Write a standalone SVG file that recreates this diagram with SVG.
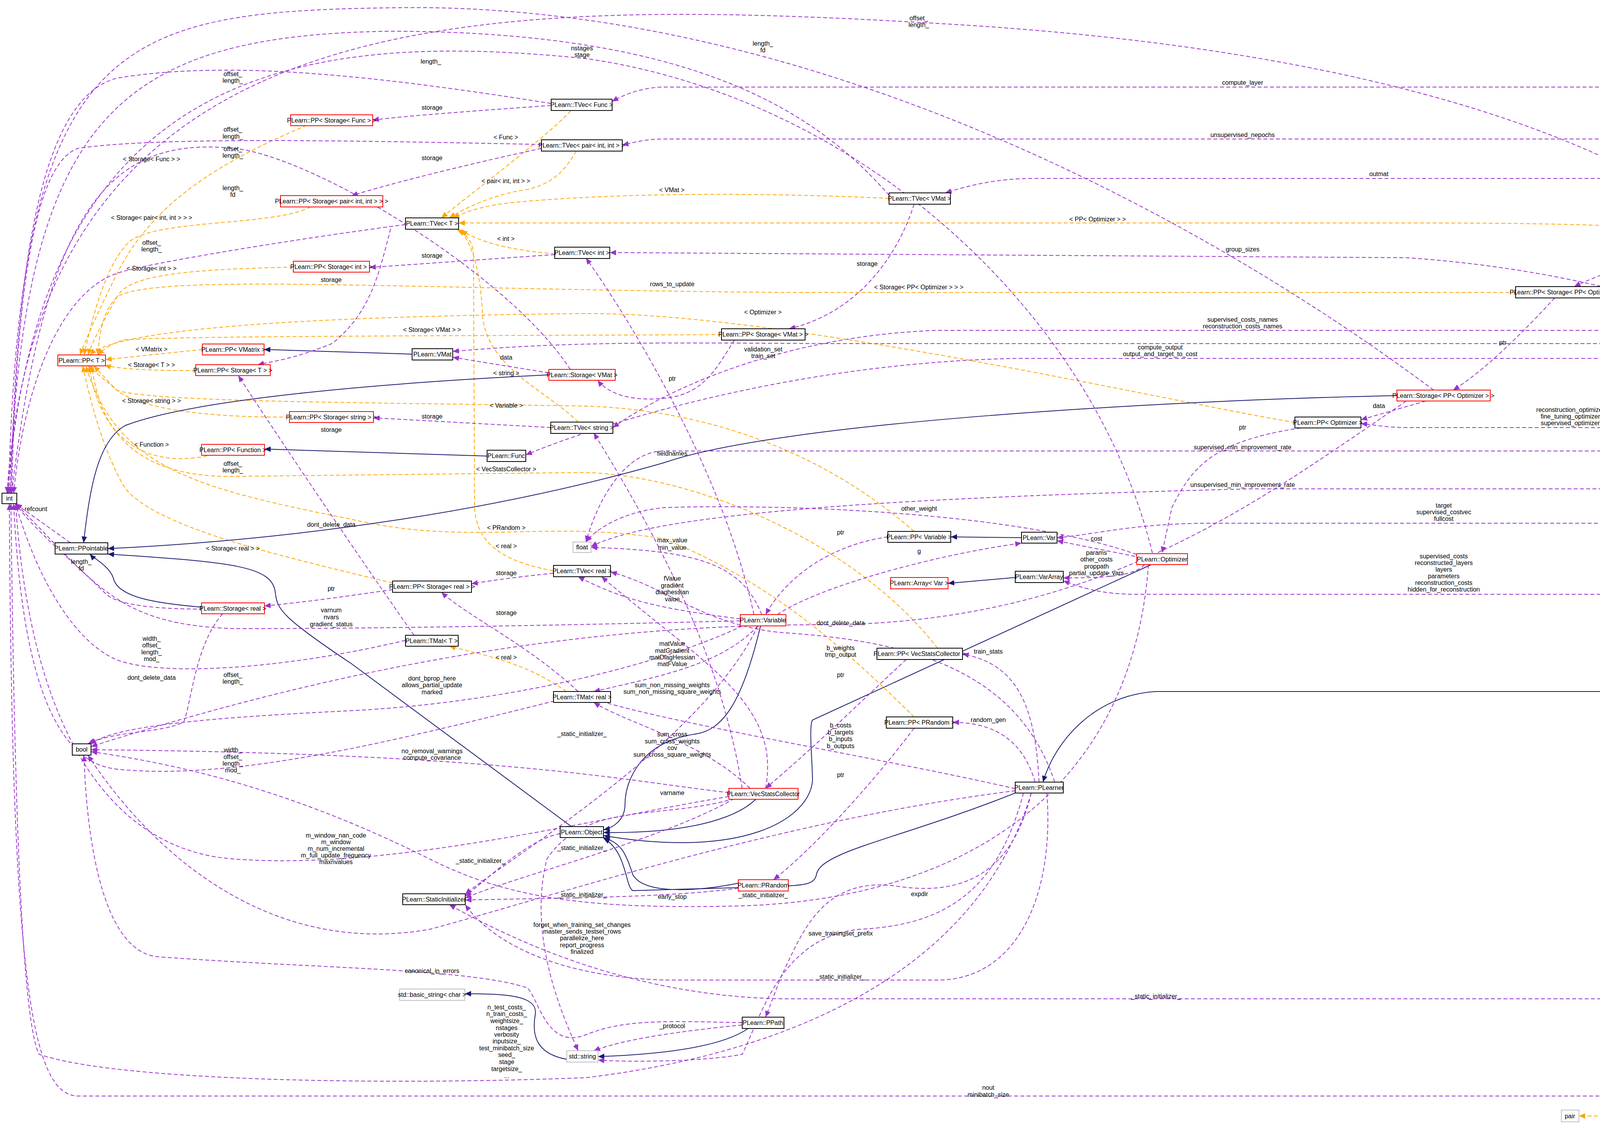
<svg xmlns="http://www.w3.org/2000/svg" width="4901" height="2894" viewBox="0 0 4901 2894">
<style>
text{font-family:"Liberation Sans",Arial,sans-serif;font-size:16px;fill:#000}
.n rect{fill:#fff;stroke:#000;stroke-width:2}
.n.r rect{stroke:#f00}
.n.g rect{stroke:#bfbfbf}
.n.root rect{fill:#bfbfbf}
.n text{text-anchor:middle}
.l text{text-anchor:middle}
.u{fill:none;stroke:#9a32cd;stroke-width:2;stroke-dasharray:10,6;marker-end:url(#mu)}
.o{fill:none;stroke:#ffa500;stroke-width:2;stroke-dasharray:10,6;marker-end:url(#mo)}
.i{fill:none;stroke:#191970;stroke-width:2;marker-end:url(#mi)}
</style>
<defs>
<marker id="mu" markerUnits="userSpaceOnUse" markerWidth="18" markerHeight="14" refX="16" refY="7" orient="auto"><path d="M0,0L16,7L0,14z" fill="#9a32cd"/></marker>
<marker id="mo" markerUnits="userSpaceOnUse" markerWidth="18" markerHeight="14" refX="16" refY="7" orient="auto"><path d="M0,0L16,7L0,14z" fill="#ffa500"/></marker>
<marker id="mi" markerUnits="userSpaceOnUse" markerWidth="18" markerHeight="14" refX="16" refY="7" orient="auto"><path d="M0,0L16,7L0,14z" fill="#191970"/></marker>
</defs>
<rect width="4901" height="2894" fill="#fff"/>
<g id="edges">
<path class="u" d="M4780,1111 C4760,500 4600,223 4300,223 L1700,223 C1650,223 1600,240 1567,260"/>
<path class="u" d="M4790,1111 C4780,600 4640,356 4400,356 L1700,356 C1650,356 1620,366 1593,371"/>
<path class="u" d="M4800,1111 C4790,700 4640,457 4400,457 L2650,457 C2550,457 2480,475 2420,494"/>
<path class="u" d="M4810,1111 C4800,800 4700,580 4494,578"/>
<path class="u" d="M4820,1111 C4700,900 4200,700 3600,660 L1600,647 L1561,647"/>
<path class="u" d="M4830,1111 C4780,950 4600,846 4400,846 L2400,846 C2000,860 1700,1000 1569,1095"/>
<path class="u" d="M4840,1111 C4790,1000 4640,918 4400,918 L2600,918 C2000,930 1500,1100 1346,1165"/>
<path class="u" d="M4800,1111 C4780,980 4650,880 4400,880 L2200,880 C1800,880 1500,870 1159,900"/>
<path class="u" d="M4690,1120 C4500,1095 4200,1095 3900,1095 L3600,1095 C3550,1095 3520,1088 3484,1085"/>
<path class="u" d="M4690,1130 C4500,1155 4300,1155 4000,1155 L1700,1155 C1600,1155 1530,1280 1500,1388"/>
<path class="u" d="M4740,1139 C4600,1200 4500,1252 4300,1252 L3200,1252 C2500,1270 1700,1300 1513,1400"/>
<path class="u" d="M4760,1139 C4700,1300 4550,1340 4400,1340 L3100,1340 C2900,1340 2800,1370 2706,1377"/>
<path class="u" d="M4780,1139 C4700,1400 4550,1522 4400,1522 L2900,1522 C2800,1520 2760,1500 2722,1488"/>
<path class="i" d="M4790,1139 C4770,1500 4650,1771 4400,1771 L2960,1771 C2800,1780 2700,1900 2670,2003"/>
<path class="u" d="M4800,1139 C4780,2000 4600,2558 4400,2558 L2000,2558 C1600,2550 1300,2400 1150,2317"/>
<path class="u" d="M4810,1139 C4790,2300 4600,2807 4400,2807 L200,2807 C80,2807 30,2500 24,1290"/>
<path class="u" d="M4830,1139 C4800,2000 4760,2850 4600,2880 C4500,2890 4450,2880 4420,2874"/>
<path class="u" d="M4760,1111 C4700,600 4000,150 2400,60 C1200,-10 100,0 18,1263"/>
<path class="o" d="M4269,584 C4000,571 3800,571 3500,571 L1174,571"/>
<path class="o" d="M3880,749 L2000,749 C1000,740 400,700 300,760 C260,800 255,860 250,909"/>
<path class="o" d="M3315,1082 C3000,1030 2000,800 1500,803 C800,810 300,840 230,909"/>
<path class="o" d="M2276,508 C2000,495 1600,490 1300,520 C1220,530 1190,545 1160,558"/>
<path class="o" d="M1461,284 C1400,350 1200,500 1130,558"/>
<path class="o" d="M1475,387 C1450,430 1420,470 1350,485 C1250,500 1180,540 1150,558"/>
<path class="o" d="M1420,650 C1300,640 1230,620 1180,590"/>
<path class="o" d="M1480,1081 C1400,1000 1240,940 1235,800 C1230,700 1210,620 1175,588"/>
<path class="o" d="M1417,1462 C1300,1440 1220,1400 1215,1300 L1212,650 C1210,620 1195,600 1170,588"/>
<path class="o" d="M518,895 L270,921"/>
<path class="o" d="M501,949 C400,950 300,945 268,935"/>
<path class="o" d="M741,1068 C500,1070 330,1040 290,990 L240,937"/>
<path class="o" d="M546,1164 C400,1200 260,1150 228,937"/>
<path class="o" d="M785,321 C600,400 400,500 300,700 C250,800 215,880 205,909"/>
<path class="o" d="M795,530 C700,580 400,560 330,620 C260,690 230,850 215,909"/>
<path class="o" d="M751,684 C500,690 330,700 300,760 C260,830 235,880 225,909"/>
<path class="o" d="M1005,1493 C700,1420 400,1350 320,1250 C260,1150 225,1000 212,937"/>
<path class="o" d="M1847,857 C1200,860 500,860 320,870 C280,880 260,900 250,909"/>
<path class="o" d="M2400,1660 C2200,1400 1800,1220 1500,1210 L600,1220 C300,1225 250,1050 235,937"/>
<path class="o" d="M2340,1836 C2200,1700 2000,1500 1700,1380 C1400,1330 1200,1400 900,1330 C500,1250 300,1200 220,937"/>
<path class="o" d="M2340,1361 C2100,1150 1800,1050 1500,1040 C900,1030 400,1030 300,1000 L225,937"/>
<path class="o" d="M1450,1771 C1350,1700 1250,1680 1150,1655"/>
<path class="o" d="M4330,2858 L4042,2858"/>
<path class="i" d="M1055,907 L676,895"/>
<path class="i" d="M1247,1168 L677,1150"/>
<path class="i" d="M1405,960 C1000,980 500,1020 320,1090 C250,1130 230,1250 214,1390"/>
<path class="i" d="M3576,1013 C3000,1025 2000,1080 1700,1185 C1300,1300 800,1380 276,1405"/>
<path class="i" d="M516,1555 C400,1545 300,1530 290,1480 C280,1450 240,1430 230,1419"/>
<path class="i" d="M1463,2117 L900,1700 C720,1580 710,1560 705,1520 C700,1450 600,1440 276,1419"/>
<path class="i" d="M1947,1603 C1900,1800 1850,1870 1780,1880 C1640,1900 1600,2000 1600,2060 C1600,2100 1570,2120 1545,2125"/>
<path class="i" d="M1935,2047 C1880,2100 1750,2135 1545,2132"/>
<path class="i" d="M2947,1446 L2080,1844 C2070,1860 2080,1950 2080,2000 C2070,2100 1900,2200 1545,2140"/>
<path class="i" d="M2599,2031 C2300,2150 2100,2180 2090,2240 C2085,2265 2060,2267 2000,2270 L1620,2281 C1600,2270 1605,2180 1545,2147"/>
<path class="i" d="M1890,2262 C1800,2280 1650,2295 1620,2240 C1600,2180 1590,2160 1545,2145"/>
<path class="i" d="M2599,1479 L2427,1494"/>
<path class="i" d="M2615,1377 L2434,1375"/>
<path class="i" d="M1915,2634 C1850,2680 1700,2700 1531,2706"/>
<path class="i" d="M1451,2713 C1380,2700 1360,2660 1370,2600 C1380,2550 1300,2545 1190,2545"/>
<path class="u" d="M1411,270 C1200,285 1000,300 954,308"/>
<path class="u" d="M1411,265 C1000,200 600,150 300,200 C100,250 40,700 28,1263"/>
<path class="u" d="M1386,380 C1200,420 1000,470 900,501"/>
<path class="u" d="M1386,370 C900,360 400,350 200,380 C80,420 40,800 30,1263"/>
<path class="u" d="M1420,652 L946,685"/>
<path class="u" d="M1038,575 C700,620 350,680 300,700 C150,750 60,1000 35,1263"/>
<path class="u" d="M1410,1095 L956,1070"/>
<path class="u" d="M1417,1468 C1300,1480 1240,1490 1207,1495"/>
<path class="u" d="M1005,1510 C900,1525 800,1540 677,1552"/>
<path class="u" d="M1000,586 C970,700 950,800 850,880 C750,920 700,925 660,934"/>
<path class="u" d="M1060,1627 C900,1400 700,1100 610,962"/>
<path class="u" d="M1405,955 L1159,915"/>
<path class="u" d="M1880,871 C1830,950 1800,1010 1700,1020 C1600,1030 1550,1000 1530,974"/>
<path class="u" d="M2340,523 C2300,650 2200,800 2020,842"/>
<path class="u" d="M520,1560 C400,1560 300,1550 270,1520 C200,1450 80,1350 40,1290"/>
<path class="u" d="M180,1390 L40,1290"/>
<path class="u" d="M570,1572 C500,1650 490,1800 470,1850 C400,1880 300,1870 225,1905"/>
<path class="u" d="M1895,1590 C1500,1600 1000,1610 600,1610 C300,1600 250,1500 40,1290"/>
<path class="u" d="M1900,1603 C1700,1700 1300,1800 900,1820 C500,1840 300,1860 230,1905"/>
<path class="u" d="M1950,1574 C1900,1450 1800,1410 1513,1402"/>
<path class="u" d="M1895,1585 C1700,1560 1600,1540 1480,1477"/>
<path class="u" d="M1940,1603 C1850,1700 1700,1730 1520,1771"/>
<path class="u" d="M2273,1375 C2100,1400 2000,1500 1960,1574"/>
<path class="u" d="M1990,1574 C2100,1500 2400,1420 2615,1391"/>
<path class="u" d="M1038,1640 C700,1720 400,1730 300,1690 C200,1650 100,1500 40,1290"/>
<path class="u" d="M1420,1795 C1000,1900 600,2000 300,1970 C100,1950 50,1600 35,1290"/>
<path class="u" d="M1480,1771 C1350,1650 1200,1580 1130,1517"/>
<path class="u" d="M1866,2030 C1600,2000 1300,1930 233,1920"/>
<path class="u" d="M1920,2019 C1800,1900 1600,1850 1520,1799"/>
<path class="u" d="M1960,2019 C2000,1800 1800,1700 1540,1477"/>
<path class="u" d="M1880,2045 C1700,2100 1500,2050 1400,2200 C1350,2400 1440,2600 1480,2691"/>
<path class="u" d="M2320,1689 C2200,1800 2100,1900 1960,2019"/>
<path class="u" d="M2660,2003 C2650,1800 2600,1700 2464,1675"/>
<path class="u" d="M2650,2003 C2620,1900 2550,1850 2439,1850"/>
<path class="u" d="M2340,1865 C2200,2050 2050,2200 1980,2253"/>
<path class="u" d="M2599,2020 C2300,1950 1700,1850 1520,1790"/>
<path class="u" d="M2640,2031 C2600,2200 2500,2300 2300,2270 C2100,2240 2050,2400 2000,2500 L1960,2605"/>
<path class="u" d="M2620,2031 C2550,2300 2400,2370 2200,2380 C2000,2400 1950,2600 1900,2700 C1800,2720 1600,2720 1531,2715"/>
<path class="u" d="M2600,2025 C2000,2100 1400,2300 1100,2380 C700,2450 400,2200 225,1934"/>
<path class="u" d="M2640,2031 C2500,2500 2000,2700 1500,2760 C1000,2780 300,2770 100,2700 C50,2600 35,1900 28,1290"/>
<path class="u" d="M2680,2031 C2700,2300 2600,2510 2400,2510 L1700,2510 C1400,2500 1250,2400 1191,2317"/>
<path class="u" d="M1900,2619 C1700,2615 1600,2610 1500,2650 C1400,2690 1380,2560 1350,2530 C1200,2480 800,2480 400,2450 C250,2430 220,2100 215,1934"/>
<path class="u" d="M1900,2625 C1750,2640 1600,2660 1520,2691"/>
<path class="u" d="M1434,2135 C1350,2150 1250,2250 1191,2295"/>
<path class="u" d="M1880,2045 C1700,2150 1300,2250 1191,2300"/>
<path class="u" d="M1890,2275 C1700,2300 1400,2300 1191,2305"/>
<path class="u" d="M1940,1603 C1800,1900 1300,2200 1191,2290"/>
<path class="u" d="M2906,1425 L2706,1385"/>
<path class="u" d="M2930,1446 C2900,1480 2800,1480 2722,1480"/>
<path class="u" d="M2940,1446 C2900,2000 2500,2300 1900,2320 C1500,2330 1300,2300 1100,2200 C700,2000 400,1950 233,1925"/>
<path class="u" d="M3650,1027 L3484,1075"/>
<path class="u" d="M3980,763 C3900,850 3800,950 3720,999"/>
<path class="u" d="M4350,600 C4250,650 4100,700 4030,734"/>
<path class="u" d="M3330,1096 C3100,1130 3050,1200 3000,1300 L2975,1416"/>
<path class="u" d="M3670,999 C3000,500 2000,0 1000,20 C300,30 50,100 22,1263"/>
<path class="u" d="M2276,500 C2100,300 1800,80 1000,80 C300,90 60,300 25,1263"/>
<path class="u" d="M2950,1416 C2800,800 2200,250 1500,150 C800,80 100,150 20,1263"/>
<path class="u" d="M1460,946 C1300,700 800,400 600,380 C300,350 120,500 30,1263"/>
<path class="u" d="M1930,1574 C1850,1200 1600,800 1500,661"/>
<path class="u" d="M1900,2019 C1850,1700 1700,1400 1520,1109"/>
<path class="u" d="M2910,1420 C2600,1310 2000,1290 1700,1300 C1600,1310 1530,1350 1500,1388"/>
<path class="u" d="M3600,1027 C3200,1300 2800,1600 2100,1600 C1500,1600 900,1700 233,1912"/>
<path class="u" d="M2700,2003 C2600,1700 2300,1640 2000,1620 C1800,1600 1700,1500 1563,1465"/>
<path class="u" d="M1866,2040 C1500,2100 1000,2230 600,2200 C300,2180 80,1900 40,1290"/>
</g>
<g class="l">
<text x="2352" y="52">offset_</text><text x="2352" y="69">length_</text>
<text x="1953" y="117">length_</text><text x="1953" y="134">fd</text>
<text x="1490" y="129">nstages</text><text x="1490" y="146">stage</text>
<text x="1103" y="163">length_</text>
<text x="596" y="195">offset_</text><text x="596" y="212">length_</text>
<text x="3181" y="217">compute_layer</text>
<text x="1106" y="281">storage</text>
<text x="596" y="337">offset_</text><text x="596" y="355">length_</text>
<text x="3181" y="351">unsupervised_nepochs</text>
<text x="1295" y="357">&lt; Func &gt;</text>
<text x="596" y="387">offset_</text><text x="596" y="404">length_</text>
<text x="388" y="413">&lt; Storage&lt; Func &gt; &gt;</text>
<text x="1106" y="410">storage</text>
<text x="3530" y="451">outmat</text>
<text x="1295" y="469">&lt; pair&lt; int, int &gt; &gt;</text>
<text x="1720" y="492">&lt; VMat &gt;</text>
<text x="596" y="487">length_</text><text x="596" y="504">fd</text>
<text x="388" y="563">&lt; Storage&lt; pair&lt; int, int &gt; &gt; &gt;</text>
<text x="2810" y="567">&lt; PP&lt; Optimizer &gt; &gt;</text>
<text x="4592" y="576">reconstruction_optimizers</text>
<text x="1295" y="617">&lt; int &gt;</text>
<text x="388" y="627">offset_</text><text x="388" y="644">length_</text>
<text x="3181" y="644">group_sizes</text>
<text x="1106" y="660">storage</text>
<text x="388" y="693">&lt; Storage&lt; int &gt; &gt;</text>
<text x="2220" y="681">storage</text>
<text x="848" y="722">storage</text>
<text x="1721" y="733">rows_to_update</text>
<text x="2352" y="741">&lt; Storage&lt; PP&lt; Optimizer &gt; &gt; &gt;</text>
<text x="4215" y="645">storage</text>
<text x="1953" y="805">&lt; Optimizer &gt;</text>
<text x="3181" y="824">supervised_costs_names</text><text x="3181" y="841">reconstruction_costs_names</text>
<text x="1106" y="850">&lt; Storage&lt; VMat &gt; &gt;</text>
<text x="3847" y="883">ptr</text>
<text x="2970" y="895">compute_output</text><text x="2970" y="912">output_and_target_to_cost</text>
<text x="1954" y="900">validation_set</text><text x="1954" y="917">train_set</text>
<text x="388" y="900">&lt; VMatrix &gt;</text>
<text x="1296" y="921">data</text>
<text x="388" y="940">&lt; Storage&lt; T &gt; &gt;</text>
<text x="1296" y="961">&lt; string &gt;</text>
<text x="1721" y="975">ptr</text>
<text x="388" y="1032">&lt; Storage&lt; string &gt; &gt;</text>
<text x="3530" y="1045">data</text>
<text x="1296" y="1044">&lt; Variable &gt;</text>
<text x="4020" y="1055">reconstruction_optimizer</text><text x="4020" y="1072">fine_tuning_optimizer</text><text x="4020" y="1089">supervised_optimizer</text>
<text x="1106" y="1072">storage</text>
<text x="3181" y="1100">ptr</text>
<text x="848" y="1106">storage</text>
<text x="388" y="1144">&lt; Function &gt;</text>
<text x="3181" y="1151">supervised_min_improvement_rate</text>
<text x="1721" y="1167">fieldnames</text>
<text x="596" y="1193">offset_</text><text x="596" y="1210">length_</text>
<text x="1296" y="1207">&lt; VecStatsCollector &gt;</text>
<text x="3181" y="1247">unsupervised_min_improvement_rate</text>
<text x="3696" y="1300">target</text><text x="3696" y="1317">supervised_costvec</text><text x="3696" y="1334">fullcost</text>
<text x="2353" y="1308">other_weight</text>
<text x="92" y="1309">refcount</text>
<text x="848" y="1349">dont_delete_data</text>
<text x="1296" y="1357">&lt; PRandom &gt;</text>
<text x="2152" y="1369">ptr</text>
<text x="2807" y="1385">cost</text>
<text x="1721" y="1389">max_value</text><text x="1721" y="1408">min_value</text>
<text x="1296" y="1404">&lt; real &gt;</text>
<text x="596" y="1410">&lt; Storage&lt; real &gt; &gt;</text>
<text x="2353" y="1417">g</text>
<text x="2807" y="1421">params</text><text x="2807" y="1438">other_costs</text><text x="2807" y="1456">proppath</text><text x="2807" y="1473">partial_update_vars</text>
<text x="3696" y="1430">supervised_costs</text><text x="3696" y="1447">reconstructed_layers</text><text x="3696" y="1464">layers</text><text x="3696" y="1481">parameters</text><text x="3696" y="1498">reconstruction_costs</text><text x="3696" y="1515">hidden_for_reconstruction</text>
<text x="208" y="1444">length_</text><text x="208" y="1461">fd</text>
<text x="1296" y="1473">storage</text>
<text x="1721" y="1487">fValue</text><text x="1721" y="1505">gradient</text><text x="1721" y="1522">diaghessian</text><text x="1721" y="1540">value</text>
<text x="848" y="1513">ptr</text>
<text x="848" y="1568">varnum</text><text x="848" y="1586">nvars</text><text x="848" y="1604">gradient_status</text>
<text x="1296" y="1575">storage</text>
<text x="2152" y="1601">dont_delete_data</text>
<text x="388" y="1641">width_</text><text x="388" y="1658">offset_</text><text x="388" y="1676">length_</text><text x="388" y="1693">mod_</text>
<text x="1721" y="1654">matValue</text><text x="1721" y="1672">matGradient</text><text x="1721" y="1689">matDiagHessian</text><text x="1721" y="1706">matFValue</text>
<text x="2152" y="1665">b_weights</text><text x="2152" y="1682">tmp_output</text>
<text x="2530" y="1674">train_stats</text>
<text x="1296" y="1689">&lt; real &gt;</text>
<text x="2152" y="1734">ptr</text>
<text x="596" y="1734">offset_</text><text x="596" y="1751">length_</text>
<text x="388" y="1741">dont_delete_data</text>
<text x="1106" y="1743">dont_bprop_here</text><text x="1106" y="1760">allows_partial_update</text><text x="1106" y="1778">marked</text>
<text x="1721" y="1760">sum_non_missing_weights</text><text x="1721" y="1777">sum_non_missing_square_weights</text>
<text x="2530" y="1849">random_gen</text>
<text x="2152" y="1863">b_costs</text><text x="2152" y="1881">b_targets</text><text x="2152" y="1898">b_inputs</text><text x="2152" y="1916">b_outputs</text>
<text x="1490" y="1885">_static_initializer_</text>
<text x="1721" y="1886">sum_cross</text><text x="1721" y="1904">sum_cross_weights</text><text x="1721" y="1921">cov</text><text x="1721" y="1938">sum_cross_square_weights</text>
<text x="596" y="1926">width_</text><text x="596" y="1944">offset_</text><text x="596" y="1961">length_</text><text x="596" y="1978">mod_</text>
<text x="1106" y="1929">no_removal_warnings</text><text x="1106" y="1946">compute_covariance</text>
<text x="2152" y="1990">ptr</text>
<text x="1721" y="2036">varname</text>
<text x="860" y="2145">m_window_nan_code</text><text x="860" y="2162">m_window</text><text x="860" y="2179">m_num_incremental</text><text x="860" y="2196">m_full_update_frequency</text><text x="860" y="2213">maxnvalues</text>
<text x="1490" y="2177">_static_initializer_</text>
<text x="1230" y="2210">_static_initializer_</text>
<text x="1490" y="2297">_static_initializer_</text>
<text x="1721" y="2302">early_stop</text>
<text x="1954" y="2298">_static_initializer_</text>
<text x="2354" y="2295">expdir</text>
<text x="1490" y="2374">forget_when_training_set_changes</text><text x="1490" y="2391">master_sends_testset_rows</text><text x="1490" y="2408">parallelize_here</text><text x="1490" y="2426">report_progress</text><text x="1490" y="2443">finalized</text>
<text x="2152" y="2396">save_trainingset_prefix</text>
<text x="1106" y="2492">canonical_in_errors</text>
<text x="2152" y="2507">_static_initializer_</text>
<text x="2959" y="2557">_static_initializer_</text>
<text x="1297" y="2585">n_test_costs_</text><text x="1297" y="2602">n_train_costs_</text><text x="1297" y="2620">weightsize_</text><text x="1297" y="2638">nstages</text><text x="1297" y="2655">verbosity</text><text x="1297" y="2672">inputsize_</text><text x="1297" y="2690">test_minibatch_size</text><text x="1297" y="2707">seed_</text><text x="1297" y="2725">stage</text><text x="1297" y="2743">targetsize_</text><text x="1297" y="2761">...</text>
<text x="1721" y="2633">_protocol</text>
<text x="2530" y="2791">nout</text><text x="2530" y="2809">minibatch_size</text>
<text x="4215" y="2848">&lt; int, int &gt;</text>
<text x="4592" y="2838">supervised_nepochs</text>
</g>
<g id="drn" class="n root"><rect x="4690" y="1111" width="207" height="28"/><text x="4793" y="1131">PLearn::DeepReconstructorNet</text></g>
<g id="tvfunc" class="n"><rect x="1411" y="254" width="156" height="29"/><text x="1489" y="274">PLearn::TVec&lt; Func &gt;</text></g>
<g id="ppsfunc" class="n r"><rect x="744" y="294" width="210" height="28"/><text x="849" y="314">PLearn::PP&lt; Storage&lt; Func &gt; &gt;</text></g>
<g id="tvpair" class="n"><rect x="1386" y="358" width="207" height="29"/><text x="1489" y="378">PLearn::TVec&lt; pair&lt; int, int &gt; &gt;</text></g>
<g id="ppspair" class="n r"><rect x="718" y="501" width="262" height="29"/><text x="849" y="521">PLearn::PP&lt; Storage&lt; pair&lt; int, int &gt; &gt; &gt;</text></g>
<g id="tvT" class="n"><rect x="1038" y="558" width="136" height="29"/><text x="1106" y="578">PLearn::TVec&lt; T &gt;</text></g>
<g id="tvvmat" class="n"><rect x="2276" y="494" width="157" height="29"/><text x="2354" y="514">PLearn::TVec&lt; VMat &gt;</text></g>
<g id="tvint" class="n"><rect x="1420" y="633" width="141" height="29"/><text x="1490" y="653">PLearn::TVec&lt; int &gt;</text></g>
<g id="ppsint" class="n r"><rect x="751" y="669" width="195" height="28"/><text x="848" y="689">PLearn::PP&lt; Storage&lt; int &gt; &gt;</text></g>
<g id="tvppopt" class="n"><rect x="4269" y="572" width="225" height="28"/><text x="4381" y="592">PLearn::TVec&lt; PP&lt; Optimizer &gt; &gt;</text></g>
<g id="ppsppopt" class="n"><rect x="3880" y="734" width="281" height="29"/><text x="4020" y="754">PLearn::PP&lt; Storage&lt; PP&lt; Optimizer &gt; &gt; &gt;</text></g>
<g id="ppsvmat" class="n"><rect x="1847" y="842" width="214" height="29"/><text x="1954" y="862">PLearn::PP&lt; Storage&lt; VMat &gt; &gt;</text></g>
<g id="ppvmatrix" class="n r"><rect x="518" y="881" width="158" height="28"/><text x="597" y="901">PLearn::PP&lt; VMatrix &gt;</text></g>
<g id="vmat" class="n"><rect x="1055" y="893" width="104" height="29"/><text x="1107" y="913">PLearn::VMat</text></g>
<g id="ppT" class="n r"><rect x="148" y="909" width="122" height="28"/><text x="209" y="929">PLearn::PP&lt; T &gt;</text></g>
<g id="ppsT" class="n r"><rect x="501" y="934" width="191" height="28"/><text x="596" y="954">PLearn::PP&lt; Storage&lt; T &gt; &gt;</text></g>
<g id="svmat" class="n r"><rect x="1405" y="946" width="170" height="28"/><text x="1490" y="966">PLearn::Storage&lt; VMat &gt;</text></g>
<g id="sppopt" class="n r"><rect x="3576" y="999" width="239" height="28"/><text x="3695" y="1019">PLearn::Storage&lt; PP&lt; Optimizer &gt; &gt;</text></g>
<g id="ppsstring" class="n r"><rect x="741" y="1054" width="215" height="28"/><text x="848" y="1074">PLearn::PP&lt; Storage&lt; string &gt; &gt;</text></g>
<g id="ppopt" class="n"><rect x="3315" y="1068" width="169" height="28"/><text x="3399" y="1088">PLearn::PP&lt; Optimizer &gt;</text></g>
<g id="tvstring" class="n"><rect x="1410" y="1081" width="159" height="29"/><text x="1489" y="1101">PLearn::TVec&lt; string &gt;</text></g>
<g id="ppfunction" class="n r"><rect x="516" y="1138" width="161" height="28"/><text x="596" y="1158">PLearn::PP&lt; Function &gt;</text></g>
<g id="func" class="n"><rect x="1247" y="1153" width="99" height="29"/><text x="1296" y="1173">PLearn::Func</text></g>
<g id="int" class="n"><rect x="5" y="1263" width="38" height="27"/><text x="24" y="1282">int</text></g>
<g id="ppvariable" class="n"><rect x="2273" y="1361" width="161" height="28"/><text x="2353" y="1381">PLearn::PP&lt; Variable &gt;</text></g>
<g id="var" class="n"><rect x="2615" y="1363" width="91" height="28"/><text x="2660" y="1383">PLearn::Var</text></g>
<g id="float" class="n g"><rect x="1467" y="1388" width="46" height="27"/><text x="1490" y="1407">float</text></g>
<g id="ppointable" class="n"><rect x="141" y="1390" width="135" height="29"/><text x="208" y="1410">PLearn::PPointable</text></g>
<g id="optimizer" class="n r"><rect x="2910" y="1418" width="130" height="28"/><text x="2975" y="1438">PLearn::Optimizer</text></g>
<g id="tvreal" class="n"><rect x="1417" y="1448" width="146" height="29"/><text x="1490" y="1468">PLearn::TVec&lt; real &gt;</text></g>
<g id="vararray" class="n"><rect x="2599" y="1463" width="123" height="29"/><text x="2660" y="1483">PLearn::VarArray</text></g>
<g id="arrayvar" class="n r"><rect x="2280" y="1479" width="147" height="29"/><text x="2353" y="1499">PLearn::Array&lt; Var &gt;</text></g>
<g id="ppsreal" class="n"><rect x="1005" y="1488" width="202" height="29"/><text x="1106" y="1508">PLearn::PP&lt; Storage&lt; real &gt; &gt;</text></g>
<g id="sreal" class="n r"><rect x="516" y="1544" width="161" height="28"/><text x="596" y="1564">PLearn::Storage&lt; real &gt;</text></g>
<g id="variable" class="n r"><rect x="1895" y="1574" width="117" height="29"/><text x="1953" y="1594">PLearn::Variable</text></g>
<g id="tmatT" class="n"><rect x="1038" y="1627" width="135" height="28"/><text x="1105" y="1647">PLearn::TMat&lt; T &gt;</text></g>
<g id="ppvsc" class="n"><rect x="2245" y="1660" width="219" height="29"/><text x="2354" y="1680">PLearn::PP&lt; VecStatsCollector &gt;</text></g>
<g id="tmatreal" class="n"><rect x="1417" y="1771" width="146" height="28"/><text x="1490" y="1791">PLearn::TMat&lt; real &gt;</text></g>
<g id="pprandom" class="n"><rect x="2269" y="1836" width="170" height="29"/><text x="2354" y="1856">PLearn::PP&lt; PRandom &gt;</text></g>
<g id="bool" class="n"><rect x="185" y="1905" width="48" height="29"/><text x="209" y="1925">bool</text></g>
<g id="plearner" class="n"><rect x="2599" y="2003" width="123" height="28"/><text x="2660" y="2023">PLearn::PLearner</text></g>
<g id="vsc" class="n r"><rect x="1866" y="2019" width="177" height="28"/><text x="1954" y="2039">PLearn::VecStatsCollector</text></g>
<g id="object" class="n"><rect x="1434" y="2117" width="111" height="28"/><text x="1489" y="2137">PLearn::Object</text></g>
<g id="prandom" class="n r"><rect x="1890" y="2253" width="128" height="29"/><text x="1954" y="2273">PLearn::PRandom</text></g>
<g id="staticinit" class="n"><rect x="1031" y="2289" width="160" height="28"/><text x="1111" y="2309">PLearn::StaticInitializer</text></g>
<g id="basicstring" class="n g"><rect x="1023" y="2533" width="167" height="29"/><text x="1106" y="2553">std::basic_string&lt; char &gt;</text></g>
<g id="ppath" class="n"><rect x="1900" y="2605" width="107" height="29"/><text x="1953" y="2625">PLearn::PPath</text></g>
<g id="stdstring" class="n g"><rect x="1451" y="2691" width="80" height="29"/><text x="1491" y="2711">std::string</text></g>
<g id="pair" class="n g"><rect x="3997" y="2843" width="45" height="30"/><text x="4019" y="2864">pair</text></g>
<g id="pairint" class="n g"><rect x="4330" y="2843" width="102" height="30"/><text x="4381" y="2864">pair&lt; int, int &gt;</text></g>
</svg>
